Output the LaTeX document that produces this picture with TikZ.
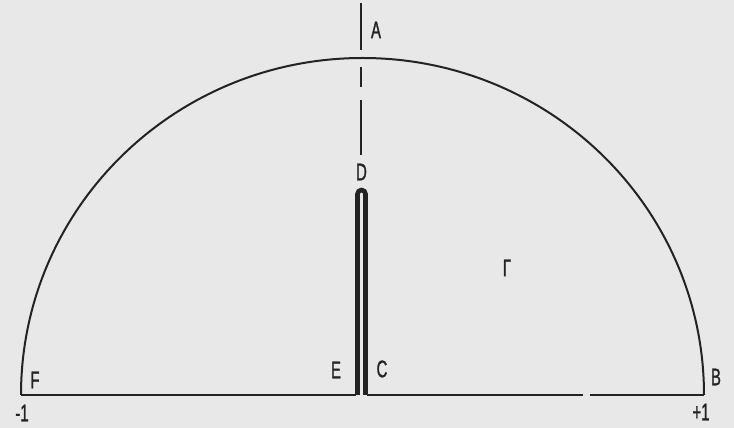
\documentclass[tikz,border=0pt]{standalone}
\usepackage{fontspec}
\newfontfamily\lbl[FakeStretch=0.62,FakeBold=1.2]{Liberation Sans}
\definecolor{bg}{RGB}{232,232,232}
\definecolor{ink}{RGB}{35,35,35}
\begin{document}
\begin{tikzpicture}[x=1pt,y=1pt,
  lab/.style={text=ink,font=\lbl\fontsize{24}{24}\selectfont,inner sep=0pt},
  thin line/.style={draw=ink,line width=2pt},
  slit/.style={draw=ink,line width=4.6pt}]
\fill[bg] (0,0) rectangle (734,428);
\useasboundingbox (0,0) rectangle (734,428);
% semicircle
\coordinate (F0) at (21,33);
\coordinate (B0) at (704,33);
\draw[thin line] (F0) arc[start angle=180,end angle=0,x radius=341.5,y radius=337];
% base line
\coordinate (E0) at (356,33);
\coordinate (C0) at (367,33);
\coordinate (G1) at (583,33);
\coordinate (G2) at (590,33);
\draw[thin line] (F0) -- (E0);
\draw[thin line] (C0) -- (G1);
\draw[thin line] (G2) -- (B0);
% slit
\draw[slit] (357.5,33) -- (357.5,234) arc[start angle=180,end angle=0,radius=4] -- (365.5,33);
% symmetry axis
\draw[draw=ink,line width=1.5pt] (361,425) -- (361,378);
\draw[draw=ink,line width=1.5pt] (361,361) -- (361,341);
\draw[draw=ink,line width=1.5pt] (361,328) -- (361,273);
% labels
\node[lab] (A) at (376,398) {A};
\node[lab] (D) at (361.5,256) {D};
\node[lab] (E) at (336,58) {E};
\node[lab] (C) at (382,59) {C};
\node[lab] (F) at (35,48) {F};
\node[lab] (m1) at (22,15) {-1};
\node[lab] (B) at (716,51) {B};
\node[lab] (p1) at (701,16) {+1};
\node[lab] (Gam) at (507,160) {Γ};
\end{tikzpicture}
\end{document}
